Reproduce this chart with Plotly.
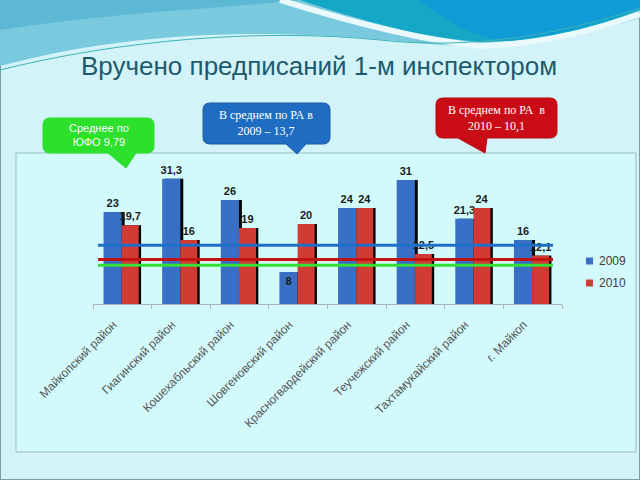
import plotly.graph_objects as go

# ---------------- data ----------------
categories = ["Майкопский район", "Гиагинский район", "Кошехабльский район",
              "Шовгеновский район", "Красногвардейский район", "Теучежский район",
              "Тахтамукайский район", "г. Майкоп"]
values_2009 = [23, 31.3, 26, 8, 24, 31, 21.3, 16]
values_2010 = [19.7, 16, 19, 20, 24, 12.5, 24, 12.1]
series_names = ["2009", "2010"]
# average lines as drawn on the picture (blue 2009, red 2010, green ЮФО)
avg_levels = [14.7, 11.1, 9.7]
avg_colors = ["#1F6FC8", "#C41212", "#33E033"]
title_text = "Вручено предписаний 1-м инспектором"
callout_texts = ["Среднее по<br>ЮФО 9,79", "В среднем по РА в<br>2009 – 13,7",
                 "В среднем по РА  в<br>2010 – 10,1"]

W, H = 640, 480


def px(x):
    return x / W


def py(y):
    return 1 - y / H


def path_px(cmds):
    out = []
    for c in cmds:
        if isinstance(c, str):
            out.append(c)
        else:
            out.append(f"{px(c[0]):.5f},{py(c[1]):.5f}")
    return " ".join(out)


def fmt(v):
    return f"{v:g}".replace(".", ",")


BLUE = "#3A6FC6"
RED = "#D23B34"
series_colors = [BLUE, RED]
LABEL_FONT = dict(family="Liberation Sans", size=11, color="#1A1A1A", weight="bold")

fig = go.Figure()

# shadows
fig.add_trace(go.Bar(x=categories, y=values_2009, offset=-0.27, width=0.31,
                     marker=dict(color="#050505", line=dict(width=0)),
                     showlegend=False, hoverinfo="skip"))
fig.add_trace(go.Bar(x=categories, y=values_2010, offset=0.03, width=0.29,
                     marker=dict(color="#050505", line=dict(width=0)),
                     showlegend=False, hoverinfo="skip"))

pos09 = ["inside" if v < 10 else "outside" for v in values_2009]
fig.add_trace(go.Bar(x=categories, y=values_2009, offset=-0.32, width=0.31,
                     name=series_names[0], marker=dict(color=BLUE, line=dict(width=0)),
                     text=[fmt(v) for v in values_2009], textposition=pos09,
                     insidetextanchor="end", constraintext="none",
                     textfont=LABEL_FONT, insidetextfont=LABEL_FONT, outsidetextfont=LABEL_FONT,
                     cliponaxis=False, showlegend=False))
fig.add_trace(go.Bar(x=categories, y=values_2010, offset=-0.01, width=0.29,
                     name=series_names[1], marker=dict(color=RED, line=dict(width=0)),
                     text=[fmt(v) for v in values_2010], textposition="outside",
                     constraintext="none",
                     textfont=LABEL_FONT, outsidetextfont=LABEL_FONT,
                     cliponaxis=False, showlegend=False))

shapes = []
# page border
shapes.append(dict(type="rect", xref="paper", yref="paper", x0=0, x1=1, y0=0, y1=1,
                   line=dict(color="#7E9CA3", width=2), fillcolor="rgba(0,0,0,0)", layer="below"))
# decorative waves
shapes.append(dict(type="path", xref="paper", yref="paper", layer="below",
                   path=path_px(["M", (0, 0), "L", (640, 0), "L", (640, 18),
                                 "C", (570, 40), (500, 50), (430, 44),
                                 "C", (330, 34), (170, 20), (0, 66), "Z"]),
                   fillcolor="#79C9DF", line=dict(width=0)))
shapes.append(dict(type="path", xref="paper", yref="paper", layer="below",
                   path=path_px(["M", (0, 0), "L", (300, 0),
                                 "C", (200, 10), (100, 14), (0, 30), "Z"]),
                   fillcolor="#5DB8D3", line=dict(width=0)))
shapes.append(dict(type="path", xref="paper", yref="paper", layer="below",
                   path=path_px(["M", (280, 0), "C", (350, 22), (420, 40), (480, 46),
                                 "C", (540, 44), (600, 28), (640, 14)]),
                   fillcolor="rgba(0,0,0,0)", line=dict(color="#EAF9FC", width=6)))
shapes.append(dict(type="path", xref="paper", yref="paper", layer="below",
                   path=path_px(["M", (300, 0), "L", (640, 0), "L", (640, 10),
                                 "C", (600, 26), (540, 42), (482, 42),
                                 "C", (420, 38), (360, 20), (300, 0), "Z"]),
                   fillcolor="#14A8C6", line=dict(width=0)))
shapes.append(dict(type="path", xref="paper", yref="paper", layer="below",
                   path=path_px(["M", (420, 0), "L", (640, 0), "L", (640, 8),
                                 "C", (600, 24), (550, 38), (500, 40),
                                 "C", (470, 36), (440, 18), (420, 0), "Z"]),
                   fillcolor="#0E9BD6", line=dict(width=0)))
shapes.append(dict(type="path", xref="paper", yref="paper", layer="below",
                   path=path_px(["M", (0, 70), "C", (120, 40), (260, 28), (380, 40),
                                 "C", (470, 50), (560, 35), (640, 8)]),
                   fillcolor="rgba(0,0,0,0)", line=dict(color="#3CB3B6", width=1)))
# chart frame
shapes.append(dict(type="rect", xref="paper", yref="paper", layer="below",
                   x0=px(16), x1=px(636), y0=py(452), y1=py(153),
                   line=dict(color="#9DBCC2", width=1), fillcolor="#D3FAFB"))

# average lines
for lvl, col in zip(avg_levels, avg_colors):
    shapes.append(dict(type="line", xref="paper", yref="y", x0=px(98), x1=px(553),
                       y0=lvl, y1=lvl, line=dict(color=col, width=3), layer="above"))


def callout(x0, y0, x1, y1, r, b0, b1, tx, ty):
    return path_px(["M", (x0 + r, y0), "L", (x1 - r, y0), "Q", (x1, y0), (x1, y0 + r),
                    "L", (x1, y1 - r), "Q", (x1, y1), (x1 - r, y1),
                    "L", (b1, y1), "L", (tx, ty), "L", (b0, y1),
                    "L", (x0 + r, y1), "Q", (x0, y1), (x0, y1 - r),
                    "L", (x0, y0 + r), "Q", (x0, y0), (x0 + r, y0), "Z"])


callouts = [
    dict(box=(43, 118, 154, 153, 7, 108, 136, 126, 168), fill="#2CE02C", line="#2CE02C",
         text_pos=(99, 135), font=dict(family="Liberation Sans", size=11, color="white")),
    dict(box=(203, 103, 330, 144, 7, 286, 306, 297, 154), fill="#1F6DC2", line="#1A5AA2",
         text_pos=(266, 123), font=dict(family="Liberation Serif", size=12, color="white")),
    dict(box=(436, 98, 557, 138, 7, 458, 487, 485, 153), fill="#CA0C16", line="#B50A12",
         text_pos=(496, 118), font=dict(family="Liberation Serif", size=12, color="white")),
]
annotations = []
for c, t in zip(callouts, callout_texts):
    shapes.append(dict(type="path", xref="paper", yref="paper", layer="above",
                       path=callout(*c["box"]), fillcolor=c["fill"],
                       line=dict(color=c["line"], width=1)))
    annotations.append(dict(x=px(c["text_pos"][0]), y=py(c["text_pos"][1]), xref="paper",
                            yref="paper", text=t, showarrow=False, xanchor="center",
                            yanchor="middle", font=c["font"], align="center"))

# manual legend
for i, (name, col) in enumerate(zip(series_names, series_colors)):
    cy = 261 + 22 * i
    shapes.append(dict(type="rect", xref="paper", yref="paper", layer="above",
                       x0=px(586), x1=px(593), y0=py(cy + 3.5), y1=py(cy - 3.5),
                       fillcolor=col, line=dict(width=0)))
    annotations.append(dict(x=px(597), y=py(cy), xref="paper", yref="paper", text=name,
                            showarrow=False, xanchor="left", yanchor="middle",
                            font=dict(family="Liberation Sans", size=12, color="#404040")))

annotations.append(dict(x=px(319), y=py(66), xref="paper", yref="paper", text=title_text,
                        showarrow=False, xanchor="center", yanchor="middle",
                        font=dict(family="Liberation Sans", size=26, color="#1E5A6E")))

fig.update_layout(
    width=W, height=H,
    margin=dict(l=0, r=0, t=0, b=0, autoexpand=False),
    paper_bgcolor="#D2F3F7",
    plot_bgcolor="rgba(0,0,0,0)",
    barmode="overlay",
    showlegend=False,
    xaxis=dict(domain=[px(93), px(562)], range=[-0.5, 7.5], type="category",
               showline=True, linecolor="#A8B4B8", linewidth=1, ticks="outside",
               tickson="boundaries", ticklen=4, tickcolor="#A8B4B8", tickangle=-45,
               ticklabelstandoff=8, ticklabelshift=-9,
               tickfont=dict(family="Liberation Sans", size=12, color="#555555"),
               showgrid=False, zeroline=False, fixedrange=True, automargin=False),
    yaxis=dict(domain=[py(304), py(164)], range=[0, 35], visible=False,
               showgrid=False, zeroline=False, fixedrange=True, automargin=False),
    shapes=shapes,
    annotations=annotations,
)

fig.write_html("out.html")
